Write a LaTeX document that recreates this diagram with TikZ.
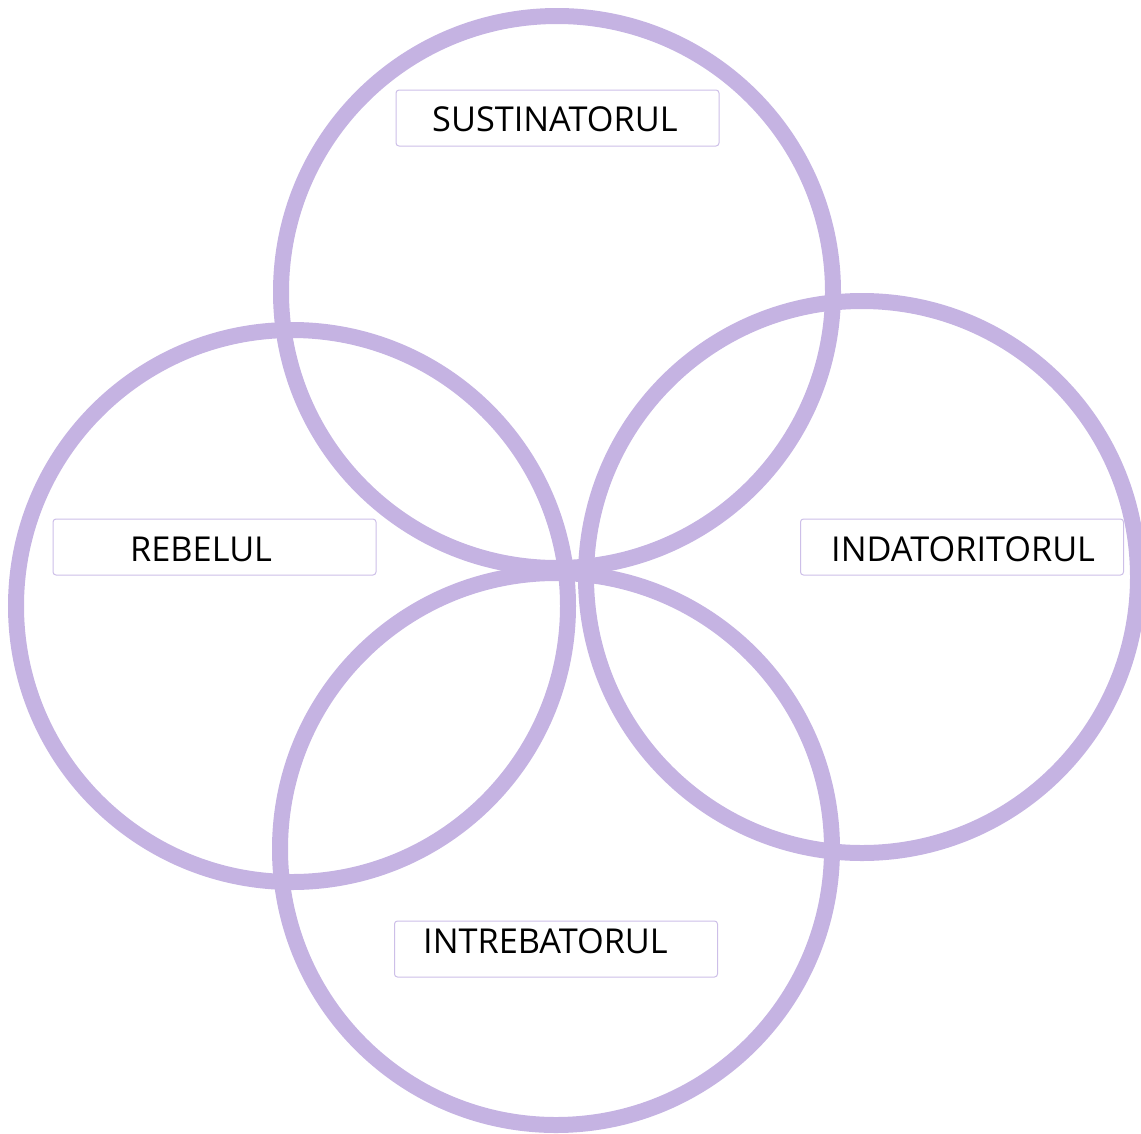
\documentclass[tikz,border=0pt]{standalone}
\usepackage{fontspec}
\setmainfont{Open Sans}
\definecolor{ring}{HTML}{C5B3E2}
\definecolor{boxline}{HTML}{CDBFE8}
\begin{document}
\begin{tikzpicture}[x=1pt,y=-1pt,
  ringline/.style={draw=ring,line width=16pt},
  labelbox/.style={draw=boxline,line width=1pt,fill=white,rounded corners=3pt,minimum width=323pt,minimum height=56pt,inner sep=0pt},
  labeltext/.style={anchor=base west,inner sep=0pt,font=\fontsize{34.3}{40}\selectfont,text=black}]
\useasboundingbox (0,0) rectangle (1141,1133);
\coordinate (ctop) at (557,292);
\coordinate (cleft) at (292,606);
\coordinate (cright) at (862,577);
\coordinate (cbottom) at (556,849);
\draw[ringline] (ctop) circle (276);
\draw[ringline] (cleft) circle (276);
\draw[ringline] (cright) circle (276);
\draw[ringline] (cbottom) circle (276);
\node[labelbox] (bs) at (557.5,118) {};
\node[labelbox] (br) at (214.5,547) {};
\node[labelbox] (bi) at (962,547) {};
\node[labelbox] (bq) at (556,949) {};
\node[labeltext] (ts) at (432,131) {SUSTINATORUL};
\node[labeltext] (tr) at (130,561) {REBELUL};
\node[labeltext] (ti) at (831,561) {INDATORITORUL};
\node[labeltext] (tq) at (423,953) {INTREBATORUL};
\end{tikzpicture}
\end{document}
